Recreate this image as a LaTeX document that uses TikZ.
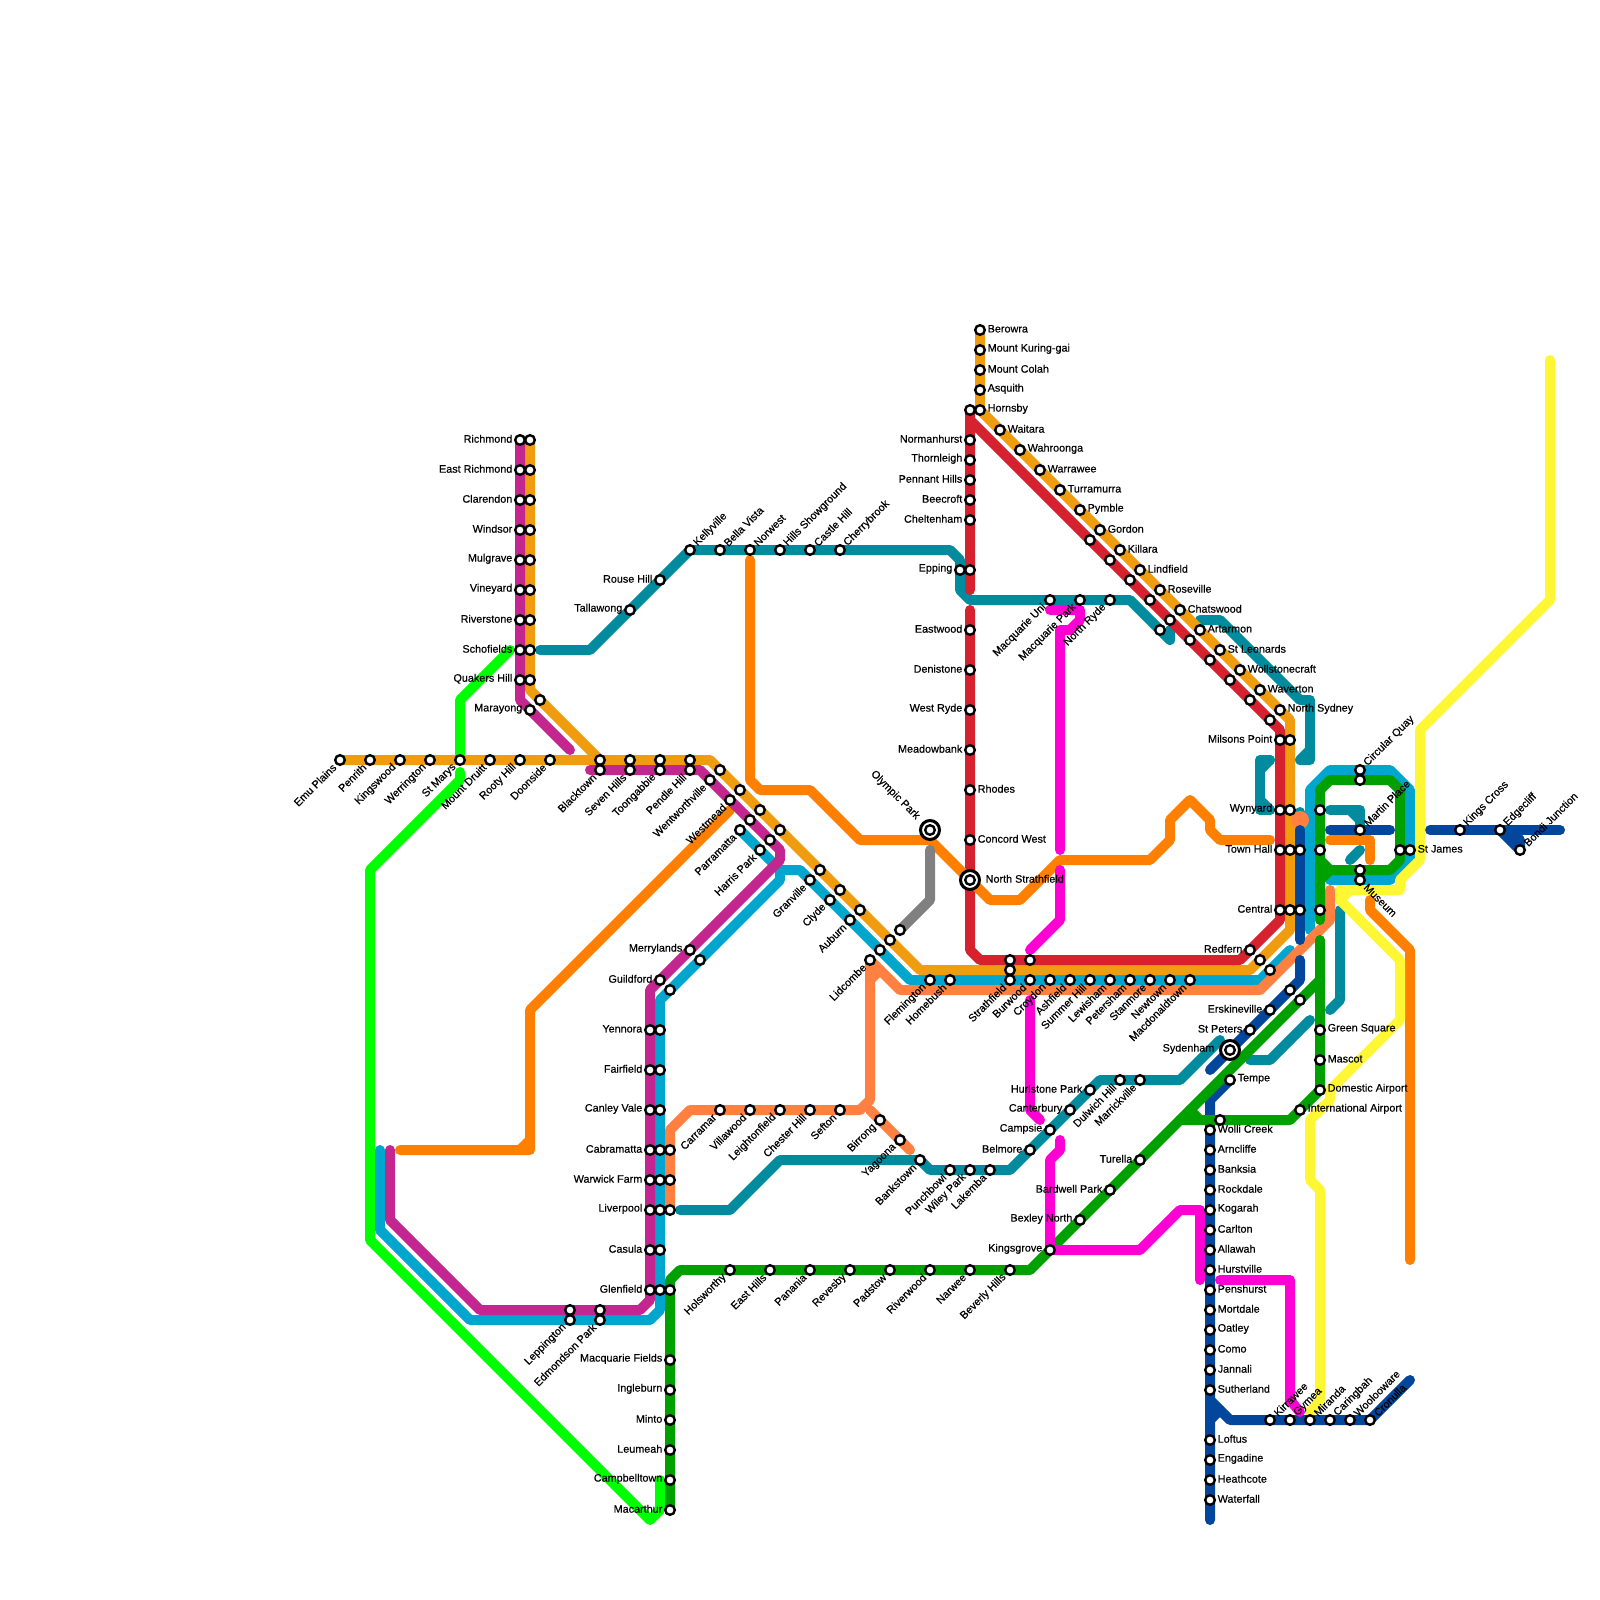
\documentclass[tikz,border=0pt]{standalone}
\usepackage{fontspec}
\setmainfont[RawFeature={embolden=0.5}]{Liberation Sans}
\usepackage{xcolor}
\usetikzlibrary{backgrounds}
\definecolor{clgold}{HTML}{F09C0F}
\definecolor{clred}{HTML}{D6212F}
\definecolor{clpurple}{HTML}{C4268F}
\definecolor{clblue}{HTML}{00A6CE}
\definecolor{clcoral}{HTML}{FF8040}
\definecolor{clorange}{HTML}{FF7F00}
\definecolor{clteal}{HTML}{008C9E}
\definecolor{cldark}{HTML}{03479C}
\definecolor{clgreen}{HTML}{00A000}
\definecolor{cllime}{HTML}{00FF00}
\definecolor{clmag}{HTML}{FF00D4}
\definecolor{clyellow}{HTML}{FFF733}
\definecolor{clgrey}{HTML}{808080}
\begin{document}
\begin{tikzpicture}[
  x=1pt, y=-1pt,
  font=\fontsize{10.8}{13}\selectfont,
  stn/.style={circle, draw=black, fill=white, line width=2.4pt, minimum size=9.6pt, inner sep=0pt},
  hub/.style={circle, draw=black, fill=white, line width=3pt, minimum size=19pt, inner sep=0pt},
  lbl/.style={inner sep=0pt, text=black},
  rail/.style={line width=10pt, line cap=round, line join=round},
]
\useasboundingbox (0,0) rectangle (1600,1600);
% stations without a name
\foreach \x/\y in {530/440,530/470,530/500,530/530,530/560,530/590,530/620,530/650,530/680,540/700,
  600/760,630/760,660/760,690/760,720/770,740/790,760/810,780/830,820/870,840/890,860/910,890/940,900/930,
  750/820,770/840,880/950,700/960,670/990,
  660/1030,660/1070,660/1110,660/1150,660/1180,660/1210,660/1250,660/1290,670/1150,670/1180,670/1210,670/1290,
  570/1310,600/1310,1220/1120,970/410,970/570,1090/540,1110/560,1130/580,1150/600,1170/620,1190/640,1210/660,1230/680,1250/700,1270/720,
  1160/630,1290/740,1290/810,1290/850,1300/850,1320/810,1320/850,1290/910,1300/910,1320/910,
  1260/960,1270/970,1290/990,1300/1000,1010/960,1010/970,1030/960,1360/780,1360/870,1400/850}{
  \node[stn] (s\x-\y) at (\x,\y) {};
}
% labels on the left
\foreach \n/\x/\y/\t in {richmond/520/440/Richmond,eastrich/520/470/East Richmond,clarendon/520/500/Clarendon,windsor/520/530/Windsor,
  mulgrave/520/560/Mulgrave,vineyard/520/590/Vineyard,riverstone/520/620/Riverstone,schofields/520/650/Schofields,quakers/520/680/Quakers Hill,marayong/530/710/Marayong,
  rouse/660/580/Rouse Hill,tallawong/630/610/Tallawong,
  normanhurst/970/440/Normanhurst,thornleigh/970/460/Thornleigh,pennant/970/480/Pennant Hills,beecroft/970/500/Beecroft,cheltenham/970/520/Cheltenham,epping/960/570/Epping,
  eastwood/970/630/Eastwood,denistone/970/670/Denistone,westryde/970/710/West Ryde,meadowbank/970/750/Meadowbank,
  merrylands/690/950/Merrylands,guildford/660/980/Guildford,yennora/650/1030/Yennora,fairfield/650/1070/Fairfield,canley/650/1110/Canley Vale,
  cabramatta/650/1150/Cabramatta,warwick/650/1180/Warwick Farm,liverpool/650/1210/Liverpool,casula/650/1250/Casula,glenfield/650/1290/Glenfield,
  macfields/670/1360/Macquarie Fields,ingleburn/670/1390/Ingleburn,minto/670/1420/Minto,leumeah/670/1450/Leumeah,campbelltown/670/1480/Campbelltown,macarthur/670/1510/Macarthur,
  kingsgrove/1050/1250/Kingsgrove,bexley/1080/1220/Bexley North,bardwell/1110/1190/Bardwell Park,turella/1140/1160/Turella,
  belmore/1030/1150/Belmore,campsie/1050/1130/Campsie,canterbury/1070/1110/Canterbury,hurlstone/1090/1090/Hurlstone Park,
  milsons/1280/740/Milsons Point,wynyard/1280/810/Wynyard,townhall/1280/850/Town Hall,central/1280/910/Central,redfern/1250/950/Redfern,
  erskineville/1270/1010/Erskineville,stpeters/1250/1030/St Peters}{
  \node[stn] (\n) at (\x,\y) {};
  \node[lbl, anchor=east] (\n l) at ([shift={(-7.5,-1.2)}]\n.center) {\t};
}
% labels on the right
\foreach \n/\x/\y/\t in {berowra/980/330/Berowra,kuring/980/350/Mount Kuring-gai,colah/980/370/Mount Colah,asquith/980/390/Asquith,hornsby/980/410/Hornsby,
  waitara/1000/430/Waitara,wahroonga/1020/450/Wahroonga,warrawee/1040/470/Warrawee,turramurra/1060/490/Turramurra,pymble/1080/510/Pymble,gordon/1100/530/Gordon,
  killara/1120/550/Killara,lindfield/1140/570/Lindfield,roseville/1160/590/Roseville,chatswood/1180/610/Chatswood,artarmon/1200/630/Artarmon,stleonards/1220/650/St Leonards,
  wollstonecraft/1240/670/Wollstonecraft,waverton/1260/690/Waverton,northsydney/1280/710/North Sydney,
  rhodes/970/790/Rhodes,concord/970/840/Concord West,stjames/1410/850/St James,
  greensq/1320/1030/Green Square,mascot/1320/1060/Mascot,domestic/1320/1090/Domestic Airport,international/1300/1110/International Airport,tempe/1230/1080/Tempe,
  wolli/1210/1130/Wolli Creek,arncliffe/1210/1150/Arncliffe,banksia/1210/1170/Banksia,rockdale/1210/1190/Rockdale,kogarah/1210/1210/Kogarah,carlton/1210/1230/Carlton,
  allawah/1210/1250/Allawah,hurstville/1210/1270/Hurstville,penshurst/1210/1290/Penshurst,mortdale/1210/1310/Mortdale,oatley/1210/1330/Oatley,como/1210/1350/Como,
  jannali/1210/1370/Jannali,sutherland/1210/1390/Sutherland,loftus/1210/1440/Loftus,engadine/1210/1460/Engadine,heathcote/1210/1480/Heathcote,waterfall/1210/1500/Waterfall}{
  \node[stn] (\n) at (\x,\y) {};
  \node[lbl, anchor=west] (\n l) at ([shift={(7.5,-1.2)}]\n.center) {\t};
}
% labels turned down to the left
\foreach \n/\x/\y/\t in {emu/340/760/Emu Plains,penrith/370/760/Penrith,kingswood/400/760/Kingswood,werrington/430/760/Werrington,stmarys/460/760/St Marys,druitt/490/760/Mount Druitt,
  rooty/520/760/Rooty Hill,doonside/550/760/Doonside,blacktown/600/770/Blacktown,sevenhills/630/770/Seven Hills,toongabbie/660/770/Toongabbie,pendle/690/770/Pendle Hill,
  wentworth/710/780/Wentworthville,westmead/730/800/Westmead,parramatta/740/830/Parramatta,harris/760/850/Harris Park,granville/810/880/Granville,clyde/830/900/Clyde,auburn/850/920/Auburn,lidcombe/870/960/Lidcombe,
  flemington/930/980/Flemington,homebush/950/980/Homebush,strathfield/1010/980/Strathfield,burwood/1030/980/Burwood,croydon/1050/980/Croydon,ashfield/1070/980/Ashfield,
  summer/1090/980/Summer Hill,lewisham/1110/980/Lewisham,petersham/1130/980/Petersham,stanmore/1150/980/Stanmore,newtown/1170/980/Newtown,macdonald/1190/980/Macdonaldtown,
  macuni/1050/600/Macquarie Uni,macpark/1080/600/Macquarie Park,northryde/1110/600/North Ryde,leppington/570/1320/Leppington,edmondson/600/1320/Edmondson Park,
  carramar/720/1110/Carramar,villawood/750/1110/Villawood,leighton/780/1110/Leightonfield,chester/810/1110/Chester Hill,sefton/840/1110/Sefton,birrong/880/1120/Birrong,yagoona/900/1140/Yagoona,
  bankstown/920/1160/Bankstown,punchbowl/950/1170/Punchbowl,wiley/970/1170/Wiley Park,lakemba/990/1170/Lakemba,dulwich/1120/1080/Dulwich Hill,marrickville/1140/1080/Marrickville,
  holsworthy/730/1270/Holsworthy,easthills/770/1270/East Hills,panania/810/1270/Panania,revesby/850/1270/Revesby,padstow/890/1270/Padstow,riverwood/930/1270/Riverwood,narwee/970/1270/Narwee,beverly/1010/1270/Beverly Hills}{
  \node[stn] (\n) at (\x,\y) {};
  \node[lbl, anchor=east, rotate=45] (\n l) at ([shift={(-5.5,5.5)}]\n.center) {\t};
}
% labels turned up to the right
\foreach \n/\x/\y/\t in {kellyville/690/550/Kellyville,bella/720/550/Bella Vista,norwest/750/550/Norwest,hills/780/550/Hills Showground,castle/810/550/Castle Hill,cherry/840/550/Cherrybrook,
  circular/1360/770/Circular Quay,martin/1360/830/Martin Place,kings/1460/830/Kings Cross,edgecliff/1500/830/Edgecliff,bondi/1520/850/Bondi Junction,
  kirrawee/1270/1420/Kirrawee,gymea/1290/1420/Gymea,miranda/1310/1420/Miranda,caringbah/1330/1420/Caringbah,woolooware/1350/1420/Woolooware,cronulla/1370/1420/Cronulla}{
  \node[stn] (\n) at (\x,\y) {};
  \node[lbl, anchor=west, rotate=45] (\n l) at ([shift={(5.5,-5.5)}]\n.center) {\t};
}
\node[stn] (museum) at (1360,880) {};
\node[lbl, anchor=west, rotate=-45] (museum l) at ([shift={(5.5,5.5)}]museum.center) {Museum};
% big interchanges
\node[hub] (olympic) at (930,830) {};
\node[stn] (olympic i) at (930,830) {};
\node[lbl, anchor=east, rotate=-45] (olympic l) at ([shift={(-12,-12)}]olympic.center) {Olympic Park};
\node[hub] (northstr) at (970,880) {};
\node[stn] (northstr i) at (970,880) {};
\node[lbl, anchor=west] (northstr l) at ([shift={(15.5,-1.2)}]northstr.center) {North Strathfield};
\node[hub] (sydenham) at (1230,1050) {};
\node[stn] (sydenham i) at (1230,1050) {};
\node[lbl, anchor=east] (sydenham l) at ([shift={(-15.5,-1.2)}]sydenham.center) {Sydenham};

\begin{scope}[on background layer]
\draw[rail, cllime] (510,650) -- (460,700) -- (stmarys.center);
\draw[rail, cllime] (460,772) -- (460,780) -- (370,870) -- (370,1240) -- (650,1520) -- (660,1510) -- (660,1480);
% teal
\draw[rail, clteal] (540,650) -- (590,650) -- (kellyville.center) -- (950,550) -- (960,560) -- (960,590) -- (970,600) -- (1130,600) -- (1170,640) -- (1170,630);
\draw[rail, clteal] (1200,620) -- (1220,620) -- (1300,700) -- (1310,700) -- (1310,760) -- (1300,760) -- (1310,750);
\draw[rail, clteal] (1270,760) -- (1260,760) -- (1260,810) -- (1270,810);
\draw[rail, clteal] (1270,760) -- (1260,770);
\draw[rail, clteal] (1260,800) -- (1270,810);
\draw[rail, clteal] (1300,812) -- (1300,830);
\draw[rail, clteal] (1330,810) -- (1360,810) -- (1360,825);
\draw[rail, clteal] (1350,810) -- (1360,820);
\draw[rail, clteal] (1360,850) -- (1350,860);
\draw[rail, clteal] (680,1210) -- (730,1210) -- (780,1160) -- (bankstown.center) -- (930,1170) -- (1010,1170) -- (1100,1080) -- (1180,1080) -- (1220,1040);
\draw[rail, clteal] (1250,1060) -- (1270,1060) -- (1310,1020);
\draw[rail, clteal] (1340,910) -- (1340,1000) -- (1330,1010);
% blue
\draw[rail, clblue] (380,1150) -- (380,1230) -- (470,1320) -- (650,1320) -- (660,1310) -- (660,1000) -- (780,880) -- (780,870);
\draw[rail, clblue] (parramatta.center) -- (780,870) -- (800,870) -- (910,980) -- (1260,980) -- (1290,950);
\draw[rail, clblue] (1310,930) -- (1310,790) -- (1330,770) -- (1390,770) -- (1410,790) -- (1410,860) -- (1390,880) -- (1330,880);
% gold
\draw[rail, clgold] (emu.center) -- (710,760) -- (920,970) -- (1250,970) -- (1290,930) -- (1290,720) -- (hornsby.center) -- (berowra.center);
\draw[rail, clgold] (s530-440.center) -- (530,690) -- (600,760);
% red
\draw[rail, clred] (970,590) -- (s970-410.center) -- (970,420) -- (1280,730) -- (1280,920) -- (1240,960) -- (980,960) -- (970,950) -- (970,610);
% orange
\draw[rail, clorange] (400,1150) -- (530,1150) -- (530,1010) -- (730,810);
\draw[rail, clorange] (520,1150) -- (530,1140);
\draw[rail, clorange] (750,560) -- (750,780) -- (760,790) -- (810,790) -- (860,840) -- (930,840) -- (990,900) -- (1020,900) -- (1060,860) -- (1150,860) -- (1170,840) -- (1170,820) -- (1190,800) -- (1210,820) -- (1210,830) -- (1220,840) -- (1270,840);
\draw[rail, clorange] (1330,840) -- (1370,840) -- (1370,860);
\draw[rail, clorange] (1370,900) -- (1370,910) -- (1410,950) -- (1410,1260);
% purple
\draw[rail, clpurple] (richmond.center) -- (520,700) -- (570,750);
\draw[rail, clpurple] (590,770) -- (700,770) -- (780,850) -- (780,860) -- (660,980) -- (650,990) -- (650,1300) -- (640,1310) -- (480,1310) -- (390,1220) -- (390,1150);
% coral
\draw[rail, clcoral] (670,1210) -- (670,1130) -- (690,1110) -- (860,1110) -- (870,1100) -- (870,960) -- (900,990) -- (1260,990) -- (1330,920) -- (1330,890);
\draw[rail, clcoral] (880,970) -- (870,980);
\draw[rail, clcoral] (870,1110) -- (910,1150);
\fill[clcoral] (1300,820) circle (9);
% dark blue
\draw[rail, cldark] (1300,830) -- (1300,940);
\draw[rail, cldark] (1300,960) -- (1300,980) -- (1210,1070);
\draw[rail, cldark] (tempe.center) -- (1210,1100) -- (1210,1520);
\draw[rail, cldark] (1210,1400) -- (1230,1420) -- (cronulla.center) -- (1410,1380);
\draw[rail, cldark] (1220,1410) -- (1210,1420);
\draw[rail, cldark] (1330,830) -- (1390,830);
\draw[rail, cldark] (1430,830) -- (1560,830);
\draw[rail, cldark] (1500,830) -- (bondi.center) -- (1520,840) -- (1510,830);
% green
\draw[rail, clgreen] (macarthur.center) -- (670,1280) -- (680,1270) -- (1030,1270) -- (1320,980);
\draw[rail, clgreen] (1320,940) -- (1320,1090) -- (1290,1120) -- (1180,1120);
\draw[rail, clgreen] (1190,1110) -- (1200,1120);
\draw[rail, clgreen] (1320,920) -- (1320,790) -- (1330,780) -- (1390,780) -- (1400,790) -- (1400,860) -- (1390,870) -- (1330,870) -- (1320,860);
\draw[rail, clgreen] (1320,880) -- (1330,870);
% magenta
\draw[rail, clmag] (1050,610) -- (1080,610) -- (1080,620) -- (1070,630) -- (1060,630) -- (1060,850);
\draw[rail, clmag] (1060,870) -- (1060,920) -- (1030,950);
\draw[rail, clmag] (1030,1000) -- (1030,1110) -- (1040,1120);
\draw[rail, clmag] (1060,1140) -- (1060,1150) -- (1050,1160) -- (1050,1250) -- (1140,1250) -- (1180,1210) -- (1200,1210) -- (1200,1280);
\draw[rail, clmag] (1220,1280) -- (1290,1280) -- (1290,1400) -- (1300,1412);
% yellow
\draw[rail, clyellow] (1550,360) -- (1550,600) -- (1420,730) -- (1420,860) -- (1400,880) -- (1400,890) -- (1340,890) -- (1340,900) -- (1400,960) -- (1400,1020) -- (1330,1090) -- (1330,1100) -- (1310,1120) -- (1310,1180) -- (1320,1190) -- (1320,1400) -- (1310,1412);
\draw[rail, clyellow] (1340,900) -- (1350,890);
% grey
\draw[rail, clgrey] (930,850) -- (930,900) -- (s900-930.center);
\end{scope}
\end{tikzpicture}
\end{document}
